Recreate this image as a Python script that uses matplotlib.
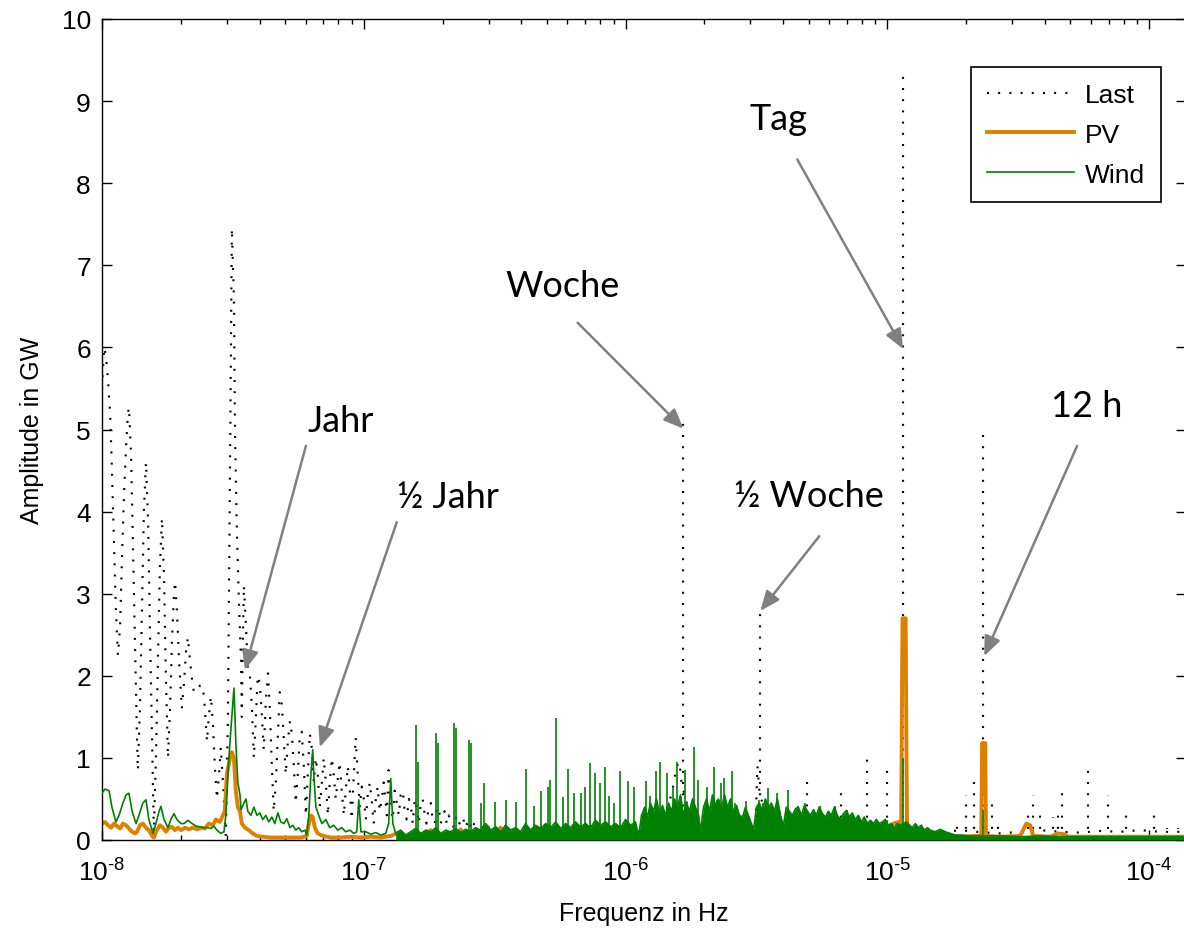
import numpy as np
import matplotlib
matplotlib.use('Agg')
import matplotlib.pyplot as plt
from matplotlib.ticker import FuncFormatter, LogLocator

# ---------------- data (log10 of frequency in Hz, amplitude in GW) ----------------
last_lgf = [-8.000, -7.992, -7.985, -7.977, -7.969, -7.962, -7.954, -7.947, -7.939, -7.931,
            -7.924, -7.916, -7.908, -7.901, -7.897, -7.889, -7.882, -7.874, -7.866, -7.863,
            -7.855, -7.847, -7.840, -7.832, -7.824, -7.817, -7.809, -7.802, -7.794, -7.786,
            -7.779, -7.771, -7.763, -7.756, -7.748, -7.740, -7.733, -7.725, -7.721, -7.714,
            -7.706, -7.695, -7.687, -7.679, -7.672, -7.664, -7.656, -7.649, -7.637, -7.626,
            -7.615, -7.607, -7.599, -7.592, -7.584, -7.576, -7.569, -7.561, -7.553, -7.546,
            -7.538, -7.531, -7.527, -7.519, -7.511, -7.504, -7.496, -7.492, -7.485, -7.477,
            -7.469, -7.466, -7.462, -7.458, -7.450, -7.443, -7.435, -7.427, -7.420, -7.412,
            -7.405, -7.397, -7.389, -7.382, -7.374, -7.366, -7.359, -7.351, -7.344, -7.336,
            -7.328, -7.321, -7.313, -7.305, -7.298, -7.290, -7.282, -7.275, -7.267, -7.260,
            -7.252, -7.244, -7.237, -7.229, -7.221, -7.214, -7.206, -7.198, -7.191, -7.183,
            -7.176, -7.168, -7.160, -7.153, -7.145, -7.137, -7.130, -7.122, -7.115, -7.107,
            -7.099, -7.092, -7.084, -7.076, -7.069, -7.061, -7.053, -7.046, -7.038, -7.031,
            -7.023, -7.015, -7.008, -7.000,
            -6.992, -6.985, -6.977, -6.969, -6.962, -6.954, -6.947, -6.939, -6.931, -6.924,
            -6.916, -6.912, -6.905, -6.897, -6.889, -6.882, -6.874, -6.866, -6.859, -6.851,
            -6.844, -6.836, -6.828, -6.821, -6.813, -6.805, -6.798, -6.790, -6.782, -6.775,
            -6.767, -6.760, -6.752, -6.744, -6.737, -6.729, -6.721, -6.714, -6.706, -6.698,
            -6.691, -6.683, -6.676, -6.668, -6.656, -6.645, -6.634, -6.622, -6.611, -6.599,
            -6.588, -6.576, -6.565, -6.553, -6.538, -6.515,
            -6.485, -6.454, -6.420, -6.382, -6.344, -6.305, -6.267, -6.229, -6.172, -6.115,
            -6.057, -6.000, -5.943, -5.885, -5.847, -5.821, -5.805, -5.794, -5.786, -5.771,
            -5.752, -5.714, -5.637, -5.561, -5.504, -5.496, -5.489, -5.466, -5.408, -5.332,
            -5.256, -5.179, -5.103, -5.027, -4.950, -4.893, -4.836, -4.779, -4.721, -4.664,
            -4.569, -4.492, -4.416, -4.340, -4.263, -4.187, -4.111, -4.034, -3.958, -3.859]
last_amp = [5.5, 6.0, 5.9, 5.6, 5.2, 4.5, 3.6, 2.8, 2.25, 2.6,
            3.4, 4.2, 4.8, 5.2, 5.27, 4.7, 3.6, 2.4, 1.2, 0.85,
            1.6, 2.9, 4.0, 4.6, 3.9, 2.6, 1.3, 0.1, 1.0, 2.2,
            3.3, 3.92, 3.2, 2.0, 1.0, 1.6, 2.4, 3.0, 3.15, 2.8,
            2.2, 1.6, 1.9, 2.3, 2.47, 2.2, 1.95, 1.8, 1.83, 1.88,
            1.88, 1.6, 1.2, 1.5, 1.75, 1.4, 0.9, 0.5, 0.8, 1.13,
            0.7, 0.3, 0.05, 1.5, 4.5, 7.45, 6.6, 5.0, 3.8, 2.9,
            2.2, 1.5, 2.4, 3.1, 2.6, 2.1, 2.0, 1.6, 1.0, 1.5,
            2.0, 1.9, 1.5, 1.1, 1.7, 2.03, 1.6, 0.9, 0.35, 0.7,
            1.3, 1.8, 1.65, 1.2, 0.8, 1.2, 1.45, 1.3, 0.9, 0.45,
            0.8, 1.3, 1.32, 0.9, 0.3, 0.8, 1.3, 1.1, 0.7, 1.0,
            0.8, 0.4, 0.7, 1.0, 0.7, 0.3, 0.7, 1.0, 0.8, 0.5,
            0.75, 0.95, 0.6, 0.3, 0.6, 0.9, 0.6, 0.25, 0.8, 1.25,
            0.8, 0.4, 0.65, 0.5,
            0.25, 0.55, 0.7, 0.45, 0.2, 0.5, 0.65, 0.35, 0.5, 0.7,
            0.45, 0.3, 0.85, 0.4, 0.25, 0.6, 0.45, 0.3, 0.55, 0.6,
            0.35, 0.25, 0.5, 0.45, 0.2, 0.5, 0.4, 0.2, 0.45, 0.5,
            0.3, 0.2, 0.4, 0.45, 0.25, 0.2, 0.38, 0.4, 0.2, 0.3,
            0.35, 0.2, 0.3, 0.25, 0.15, 0.3, 0.2, 0.28, 0.15, 0.25,
            0.12, 0.22, 0.12, 0.2, 0.1, 0.2,
            0.12, 0.18, 0.1, 0.16, 0.12, 0.18, 0.13, 0.15, 0.12, 0.16,
            0.12, 0.15, 0.12, 0.2, 0.3, 0.6, 0.9, 0.95, 0.7, 0.5,
            0.3, 0.2, 0.25, 0.2, 0.15, 0.9, 0.6, 0.3, 0.2, 0.18,
            0.2, 0.15, 0.25, 0.12, 0.15, 0.12, 0.08, 0.1, 0.12, 0.1,
            0.08, 0.1, 0.12, 0.1, 0.09, 0.11, 0.1, 0.12, 0.1, 0.1]

# isolated spectral lines of the load (Woche, 1/2 Woche, Tag, 12 h, ...)
last_peak_lgf = [-5.779, -5.485, -5.305, -5.176, -5.076, -5.000, -4.939, -4.733, -4.698,
                 -4.668, -4.634, -4.599, -4.576, -4.462, -4.443, -4.416, -4.366, -4.347,
                 -4.332, -4.233, -4.157, -4.088, -3.981, -3.931, -3.889]
last_peak_amp = [5.15, 2.77, 0.79, 0.61, 1.0, 0.88, 9.40, 0.2, 0.55,
                 0.77, 4.95, 0.49, 0.2, 0.37, 0.55, 0.39, 0.28, 0.33,
                 0.57, 0.89, 0.55, 0.37, 0.37, 0.15, 0.15]

pv_lgf = [-8.000, -7.989, -7.977, -7.966, -7.954, -7.943, -7.931, -7.920, -7.908, -7.897,
          -7.885, -7.874, -7.866, -7.855, -7.844, -7.832, -7.821, -7.809, -7.802, -7.790,
          -7.779, -7.767, -7.756, -7.744, -7.733, -7.721, -7.710, -7.698, -7.683, -7.668,
          -7.653, -7.637, -7.622, -7.607, -7.592, -7.576, -7.565, -7.550, -7.538, -7.531,
          -7.523, -7.511, -7.504, -7.496, -7.489, -7.481, -7.473, -7.466, -7.454, -7.439,
          -7.424, -7.408, -7.386, -7.355, -7.317, -7.279, -7.240, -7.218, -7.210, -7.202,
          -7.195, -7.187, -7.176, -7.156, -7.126, -7.088, -7.050, -7.011, -6.973, -6.935,
          -6.897, -6.859, -6.847, -6.821, -6.782, -6.744, -6.733, -6.687, -6.649, -6.630,
          -6.618, -6.573, -6.515, -6.477, -6.466, -6.401, -6.324, -6.313, -6.248, -6.172,
          -6.095, -6.019, -5.943, -5.714, -5.332, -5.103, -5.027, -4.977, -4.954, -4.947,
          -4.942, -4.930, -4.925, -4.905, -4.836, -4.721, -4.653, -4.641, -4.638, -4.626,
          -4.623, -4.569, -4.492, -4.477, -4.469, -4.454, -4.443, -4.378, -4.347, -4.324,
          -4.309, -4.187, -4.073, -3.958, -3.859]
pv_amp = [0.2, 0.22, 0.18, 0.15, 0.2, 0.17, 0.14, 0.2, 0.18, 0.14,
          0.1, 0.08, 0.1, 0.18, 0.2, 0.15, 0.12, 0.05, 0.03, 0.12,
          0.18, 0.15, 0.1, 0.15, 0.16, 0.12, 0.15, 0.12, 0.15, 0.13,
          0.15, 0.13, 0.15, 0.14, 0.2, 0.18, 0.25, 0.22, 0.3, 0.35,
          0.8, 1.0, 1.07, 1.0, 0.6, 0.4, 0.35, 0.2, 0.15, 0.12,
          0.08, 0.05, 0.04, 0.03, 0.03, 0.03, 0.03, 0.05, 0.2, 0.3,
          0.28, 0.15, 0.08, 0.05, 0.03, 0.03, 0.04, 0.03, 0.04, 0.03,
          0.05, 0.1, 0.04, 0.06, 0.05, 0.12, 0.04, 0.06, 0.05, 0.13,
          0.05, 0.05, 0.06, 0.15, 0.05, 0.07, 0.14, 0.06, 0.1, 0.06,
          0.12, 0.05, 0.06, 0.05, 0.05, 0.08, 0.1, 0.2, 0.22, 0.2,
          2.7, 2.7, 0.2, 0.12, 0.05, 0.04, 0.05, 0.05, 1.18, 1.18,
          0.05, 0.04, 0.05, 0.15, 0.2, 0.18, 0.05, 0.04, 0.08, 0.07,
          0.04, 0.04, 0.04, 0.04, 0.04]

wind_lgf = [-8.000, -7.989, -7.973, -7.962, -7.947, -7.935, -7.920, -7.908, -7.897, -7.885,
            -7.870, -7.859, -7.844, -7.832, -7.821, -7.805, -7.794, -7.782, -7.775, -7.763,
            -7.748, -7.737, -7.725, -7.714, -7.698, -7.687, -7.672, -7.656, -7.641, -7.626,
            -7.611, -7.595, -7.584, -7.573, -7.561, -7.546, -7.534, -7.527, -7.519, -7.511,
            -7.504, -7.496, -7.492, -7.489, -7.481, -7.473, -7.469, -7.458, -7.450, -7.443,
            -7.431, -7.420, -7.408, -7.397, -7.386, -7.374, -7.363, -7.351, -7.340, -7.328,
            -7.317, -7.305, -7.294, -7.282, -7.271, -7.260, -7.248, -7.237, -7.225, -7.218,
            -7.210, -7.202, -7.195, -7.191, -7.183, -7.172, -7.160, -7.145, -7.130, -7.115,
            -7.099, -7.084, -7.069, -7.053, -7.038, -7.027, -7.019, -7.011, -6.992, -6.973,
            -6.954, -6.935, -6.916, -6.905, -6.897, -6.889, -6.878,
            -6.859, -6.840, -6.821, -6.802, -6.782, -6.763, -6.744, -6.725, -6.706, -6.687,
            -6.668, -6.649, -6.630, -6.611, -6.592, -6.573, -6.553, -6.534, -6.515, -6.496,
            -6.477, -6.458, -6.439, -6.420, -6.401, -6.382, -6.363, -6.344, -6.324, -6.305,
            -6.286, -6.267, -6.248, -6.229, -6.210, -6.191, -6.172, -6.153, -6.134, -6.115,
            -6.095, -6.076, -6.057, -6.038, -6.019, -6.000, -5.981, -5.962, -5.950, -5.939,
            -5.927, -5.916, -5.905, -5.893, -5.882, -5.870, -5.859, -5.847, -5.836, -5.824,
            -5.813, -5.802, -5.790, -5.779, -5.767, -5.756, -5.744, -5.733, -5.721, -5.714,
            -5.702, -5.691, -5.679, -5.668, -5.656, -5.645, -5.634, -5.622, -5.611, -5.599,
            -5.588, -5.576, -5.565, -5.553, -5.542, -5.531, -5.519, -5.511, -5.500, -5.489,
            -5.477, -5.466, -5.454, -5.443, -5.431, -5.420, -5.408, -5.397, -5.386, -5.374,
            -5.363, -5.351, -5.340, -5.328, -5.317, -5.305, -5.294, -5.282, -5.271, -5.260,
            -5.248, -5.237, -5.225, -5.214, -5.202, -5.191, -5.179, -5.168, -5.156, -5.145,
            -5.134, -5.122, -5.111, -5.099, -5.088, -5.076, -5.065, -5.053, -5.042, -5.031,
            -5.019, -5.008, -4.996, -4.985, -4.973, -4.962, -4.950, -4.939, -4.927, -4.916,
            -4.905, -4.893, -4.882, -4.870, -4.859, -4.847, -4.836, -4.817, -4.798, -4.779,
            -4.760, -4.740, -4.721, -4.683, -4.645, -4.607, -4.569, -4.492, -4.416, -4.340,
            -4.263, -4.187, -4.111, -4.034, -3.958, -3.859]
wind_amp = [0.57, 0.62, 0.6, 0.4, 0.22, 0.3, 0.45, 0.55, 0.57, 0.35,
            0.2, 0.3, 0.45, 0.49, 0.25, 0.08, 0.2, 0.35, 0.41, 0.25,
            0.15, 0.25, 0.32, 0.25, 0.2, 0.2, 0.24, 0.2, 0.17, 0.16,
            0.15, 0.15, 0.14, 0.17, 0.12, 0.08, 0.1, 0.3, 0.8, 1.2,
            1.5, 1.85, 1.5, 1.2, 0.7, 0.55, 0.37, 0.45, 0.5, 0.35,
            0.3, 0.4, 0.3, 0.33, 0.25, 0.3, 0.22, 0.28, 0.2, 0.33,
            0.22, 0.2, 0.26, 0.15, 0.18, 0.12, 0.15, 0.1, 0.12, 0.06,
            0.3, 0.8, 1.1, 0.8, 0.4, 0.3, 0.2, 0.25, 0.15, 0.18,
            0.12, 0.15, 0.1, 0.12, 0.08, 0.1, 0.49, 0.1, 0.1, 0.07,
            0.09, 0.06, 0.08, 0.2, 0.75, 0.2, 0.08,
            0.12, 0.06, 0.1, 0.14, 0.08, 0.12, 0.1, 0.15, 0.08, 0.12,
            0.1, 0.14, 0.09, 0.13, 0.1, 0.15, 0.12, 0.2, 0.12, 0.16,
            0.1, 0.18, 0.12, 0.15, 0.1, 0.2, 0.12, 0.18, 0.14, 0.2,
            0.15, 0.22, 0.14, 0.2, 0.15, 0.22, 0.16, 0.2, 0.15, 0.24,
            0.18, 0.22, 0.16, 0.2, 0.15, 0.25, 0.18, 0.22, 0.05, 0.3,
            0.4, 0.28, 0.45, 0.35, 0.5, 0.32, 0.42, 0.3, 0.45, 0.35,
            0.5, 0.4, 0.55, 0.3, 0.45, 0.35, 0.5, 0.4, 0.3, 0.1,
            0.4, 0.5, 0.35, 0.55, 0.42, 0.5, 0.38, 0.55, 0.4, 0.5,
            0.35, 0.42, 0.3, 0.28, 0.4, 0.3, 0.2, 0.12, 0.4, 0.45,
            0.35, 0.5, 0.4, 0.45, 0.35, 0.5, 0.3, 0.17, 0.4, 0.35,
            0.3, 0.38, 0.4, 0.3, 0.42, 0.35, 0.3, 0.37, 0.3, 0.4,
            0.32, 0.28, 0.35, 0.3, 0.4, 0.3, 0.25, 0.32, 0.36, 0.28,
            0.33, 0.25, 0.3, 0.22, 0.28, 0.2, 0.24, 0.2, 0.25, 0.2,
            0.22, 0.25, 0.18, 0.2, 0.15, 0.2, 0.18, 0.2, 0.22, 0.18,
            0.15, 0.2, 0.15, 0.18, 0.12, 0.15, 0.12, 0.1, 0.13, 0.1,
            0.08, 0.06, 0.06, 0.05, 0.05, 0.05, 0.05, 0.04, 0.05, 0.04,
            0.04, 0.04, 0.04, 0.04, 0.04, 0.04]

wind_spike_lgf = [-6.802, -6.794, -6.725, -6.718, -6.656, -6.649, -6.599, -6.592, -6.553, -6.542,
                  -6.500, -6.458, -6.420, -6.382, -6.351, -6.324, -6.298, -6.290, -6.267, -6.240,
                  -6.221, -6.198, -6.172, -6.156, -6.137, -6.115, -6.099, -6.080, -6.065, -6.046,
                  -6.023, -5.992, -5.966, -5.920, -5.905, -5.885, -5.870, -5.840, -5.817, -5.802,
                  -5.771, -5.737, -5.725, -5.687, -5.664, -5.649, -5.637, -5.622, -5.595, -5.580,
                  -5.538, -5.492, -5.473, -5.454, -5.420, -5.378, -5.340, -5.313, -5.256, -5.198,
                  -5.153, -5.000, -4.939, -4.634]
wind_spike_amp = [1.40, 0.95, 1.30, 1.18, 1.42, 1.37, 1.22, 1.18, 0.45, 0.69,
                  0.46, 0.49, 0.46, 0.86, 0.42, 0.6, 0.65, 0.73, 1.48, 0.52,
                  0.87, 0.57, 0.57, 0.65, 0.94, 0.81, 0.7, 0.89, 0.53, 0.45,
                  0.84, 0.72, 0.65, 0.72, 0.53, 0.84, 0.95, 0.81, 0.63, 0.95,
                  0.85, 1.13, 0.73, 0.65, 0.89, 0.49, 0.7, 0.75, 0.84, 0.45,
                  0.47, 0.49, 0.45, 0.63, 0.57, 0.61, 0.41, 0.45, 0.41, 0.41,
                  0.37, 0.24, 1.0, 0.36]

# annotations: label, text position (log10 f, amp), arrow start, arrow tip
ann_labels = ['Jahr', '½ Jahr', 'Woche', '½ Woche', 'Tag', '12 h']
ann_text_lgf = [-7.088, -6.679, -6.240, -5.298, -5.416, -4.237]
ann_text_amp = [4.98, 4.06, 6.63, 4.07, 8.66, 5.16]
ann_from_lgf = [-7.221, -6.874, -6.183, -5.260, -5.344, -4.275]
ann_from_amp = [4.80, 3.87, 6.30, 3.70, 8.29, 4.80]
ann_to_lgf = [-7.454, -7.168, -5.779, -5.485, -4.939, -4.630]
ann_to_amp = [2.07, 1.13, 5.01, 2.79, 5.98, 2.24]

yticks = list(range(0, 11))
x_min_lgf, x_max_lgf = -8.0, -3.859

# ---------------- style ----------------
plt.rcParams['font.family'] = ['Liberation Sans', 'DejaVu Sans']
plt.rcParams['mathtext.fontset'] = 'custom'
plt.rcParams['mathtext.rm'] = 'Liberation Sans'
plt.rcParams['mathtext.it'] = 'Liberation Sans:italic'
plt.rcParams['mathtext.bf'] = 'Liberation Sans:bold'
plt.rcParams['axes.unicode_minus'] = False

C_LAST = 'black'
C_PV = '#E08000'
C_WIND = '#008000'
DOT = (0, (0.9, 4.3))

fig = plt.figure(figsize=(11.84, 9.29), dpi=100)
ax = fig.add_axes([102 / 1184, 88 / 929, 1084 / 1184, 821 / 929])

f_last = 10.0 ** np.array(last_lgf)
f_lpk = 10.0 ** np.array(last_peak_lgf)
f_pv = 10.0 ** np.array(pv_lgf)
f_wind = 10.0 ** np.array(wind_lgf)
f_wsp = 10.0 ** np.array(wind_spike_lgf)

l_last, = ax.plot(f_last, last_amp, color=C_LAST, lw=1.55, linestyle=DOT, label='Last', zorder=1)
ax.vlines(f_lpk, 0, last_peak_amp, colors=C_LAST, lw=1.55, linestyles=[DOT], zorder=1)

l_pv, = ax.plot(f_pv, pv_amp, color=C_PV, lw=2.8, label='PV', zorder=2)

l_wind, = ax.plot(f_wind, wind_amp, color=C_WIND, lw=1.2, label='Wind', zorder=3)
wl = np.array(wind_lgf)
ax.fill_between(f_wind, 0, wind_amp, where=wl >= -6.88, color=C_WIND, lw=0, zorder=3)
ax.vlines(f_wsp, 0, wind_spike_amp, colors=C_WIND, lw=1.2, zorder=3)

ax.set_xscale('log')
ax.set_xlim(10.0 ** x_min_lgf, 10.0 ** x_max_lgf)
ax.set_ylim(0, 10)
ax.set_yticks(yticks)


def decade_label(v, pos):
    e = int(round(np.log10(v)))
    sign = r'\text{-}' if e < 0 else ''
    return r'$\mathdefault{10^{%s%d}}$' % (sign, abs(e))


ax.xaxis.set_major_locator(LogLocator(base=10))
ax.xaxis.set_major_formatter(FuncFormatter(decade_label))

ax.tick_params(axis='both', which='both', direction='in', top=True, right=True, width=1.0,
               labelsize=19, color='black')
ax.tick_params(axis='both', which='major', length=7)
ax.tick_params(axis='both', which='minor', length=3.5)
ax.tick_params(axis='x', which='major', pad=13)
ax.tick_params(axis='y', which='major', pad=8)
for s in ax.spines.values():
    s.set_linewidth(1.0)

ax.set_xlabel('Frequenz in Hz', fontsize=18, labelpad=11)
ax.set_ylabel('Amplitude in GW', fontsize=18, labelpad=13)

leg = ax.legend(handles=[l_last, l_pv, l_wind], loc='upper right',
                bbox_to_anchor=(0.977, 0.9415), borderaxespad=0, fancybox=False,
                edgecolor='black', framealpha=1, fontsize=19, handlelength=3.3,
                handletextpad=0.42, labelspacing=0.6, borderpad=0.6)
leg.get_frame().set_linewidth(1.2)

for lab, tx, ty, fx, fy, px, py in zip(ann_labels, ann_text_lgf, ann_text_amp,
                                        ann_from_lgf, ann_from_amp, ann_to_lgf, ann_to_amp):
    ax.text(10.0 ** tx, ty, lab, ha='center', va='baseline', fontsize=26,
            family=['Lato', 'DejaVu Sans'], color='black', zorder=6)
    ax.annotate('', xy=(10.0 ** px, py), xytext=(10.0 ** fx, fy),
                arrowprops=dict(arrowstyle='-|>,head_length=0.6,head_width=0.25',
                                color='#808080', lw=1.8, mutation_scale=20,
                                shrinkA=0, shrinkB=0), zorder=6)

fig.savefig('out.png', dpi=100)
